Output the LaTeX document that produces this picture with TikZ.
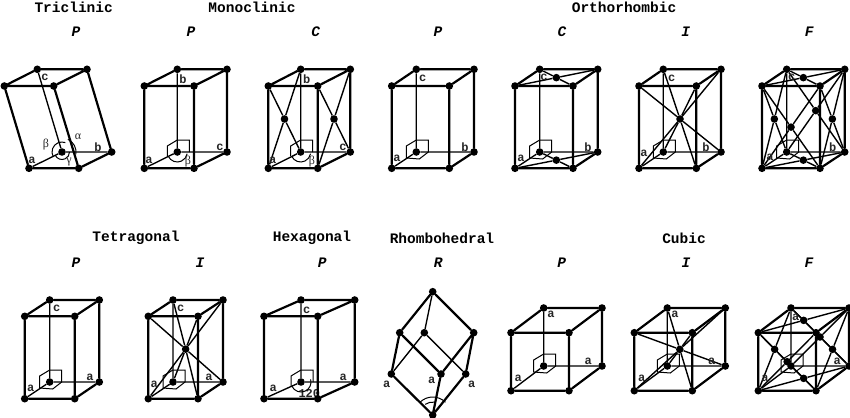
\documentclass[tikz,border=0pt]{standalone}
\usepackage{fontspec}
\setmonofont{Liberation Mono}
\newfontfamily\grk{Liberation Serif}
\usetikzlibrary{calc}
\tikzset{
  x=1pt,y=-1pt,
  vtx/.style={circle,fill=black,inner sep=0pt,minimum size=7.6pt},
  edgeA/.style={line width=2.2pt,line cap=round},
  edgeB/.style={line width=1.35pt},
  diag/.style={line width=1.4pt},
  marker/.style={line width=1pt,line join=miter},
  ttl/.style={font=\ttfamily\bfseries\fontsize{14.5}{15}\selectfont,inner sep=0pt},
  cen/.style={font=\ttfamily\bfseries\itshape\fontsize{14.5}{15}\selectfont,inner sep=0pt},
  lab/.style={font=\ttfamily\bfseries\fontsize{12}{12}\selectfont,inner sep=0pt,text=black!85},
  glab/.style={font=\grk\fontsize{12}{12}\selectfont,inner sep=0pt,text=black!85}
}
\newcommand\cellbox[9]{%
  \node[vtx] (#1ftl) at (#2,\yFT) {};
  \node[vtx] (#1ftr) at (#3,\yFT) {};
  \node[vtx] (#1btl) at (#4,\yBT) {};
  \node[vtx] (#1btr) at (#5,\yBT) {};
  \node[vtx] (#1fbl) at (#6,\yFB) {};
  \node[vtx] (#1fbr) at (#7,\yFB) {};
  \node[vtx] (#1bbl) at (#8,\yBB) {};
  \node[vtx] (#1bbr) at (#9,\yBB) {};
  \draw[edgeB] (#1btl)--(#1bbl) (#1bbl)--(#1bbr) (#1bbl)--(#1fbl);
  \draw[edgeA] (#1ftl)--(#1ftr) (#1ftr)--(#1btr) (#1btr)--(#1btl) (#1btl)--(#1ftl)
    (#1ftl)--(#1fbl) (#1fbl)--(#1fbr) (#1fbr)--(#1ftr) (#1fbr)--(#1bbr) (#1bbr)--(#1btr);
}
\newcommand\uprightbox[5]{\cellbox{#1}{#2}{#3}{#4}{#5}{#2}{#3}{#4}{#5}}
\newcommand\centred[5]{%
  \node[vtx] (#1) at ($(#2)!.5!(#3)$) {};
  \draw[diag] (#2)--(#1) (#1)--(#3) (#4)--(#1) (#1)--(#5);
}
\newcommand\allfaces[1]{%
  \centred{#1top}{#1ftl}{#1btr}{#1ftr}{#1btl}
  \centred{#1bot}{#1fbl}{#1bbr}{#1fbr}{#1bbl}
  \centred{#1lft}{#1ftl}{#1bbl}{#1btl}{#1fbl}
  \centred{#1rgt}{#1ftr}{#1bbr}{#1btr}{#1fbr}
  \centred{#1frt}{#1ftl}{#1fbr}{#1ftr}{#1fbl}
  \centred{#1bck}{#1btl}{#1bbr}{#1btr}{#1bbl}
}
\newcommand\hexmark[1]{%
  \draw[marker] ([shift={(3,7)}]#1.center)--([shift={(12,0)}]#1.center)--([shift={(12,-12)}]#1.center)
    --([shift={(0,-12)}]#1.center)--([shift={(-10,-6)}]#1.center)--([shift={(-10,6)}]#1.center)--cycle;
}
\newcommand\halfmark[1]{%
  \draw[marker] ([shift={(12,0)}]#1.center)--([shift={(12,-12)}]#1.center)
    --([shift={(0,-12)}]#1.center)--([shift={(-10,-6)}]#1.center)--([shift={(-10,4)}]#1.center);
}
\newcommand\angarc[4]{%
  \draw[marker] ([shift={(#2:#4pt)}]#1.center) arc[start angle=#2,end angle=#3,radius=#4pt];
}
\begin{document}
\begin{tikzpicture}
\useasboundingbox (0,0) rectangle (850,417);
\fill[white] (0,0) rectangle (850,417);
\node[ttl] (t1) at (73.7,7.5) {Triclinic};
\node[ttl] (t2) at (252,7.5) {Monoclinic};
\node[ttl] (t3) at (624,7.5) {Orthorhombic};
\node[ttl] (t4) at (136,238) {Tetragonal};
\node[ttl] (t5) at (312,238) {Hexagonal};
\node[ttl] (t6) at (442,238) {Rhombohedral};
\node[ttl] (t7) at (684,238) {Cubic};
\node[cen] (l1) at (76,32) {P};
\node[cen] (l2) at (191,32) {P};
\node[cen] (l3) at (315.7,32) {C};
\node[cen] (l4) at (438,32) {P};
\node[cen] (l5) at (562,32) {C};
\node[cen] (l6) at (685.7,32) {I};
\node[cen] (l7) at (809.3,32) {F};
\node[cen] (m1) at (76,262.7) {P};
\node[cen] (m2) at (200,262.7) {I};
\node[cen] (m3) at (322.3,262.7) {P};
\node[cen] (m4) at (438.3,262.7) {R};
\node[cen] (m5) at (561.7,262.7) {P};
\node[cen] (m6) at (686,262.7) {I};
\node[cen] (m7) at (809,262.7) {F};
% row 1
\def\yFT{86}\def\yBT{69.3}\def\yFB{168.3}\def\yBB{152}
\cellbox{tr}{4.3}{53.7}{37.3}{87}{29}{78.7}{62}{111.7}
\angarc{trbbl}{65}{-10}{14}
\angarc{trbbl}{70}{210}{10}
\angarc{trbbl}{205}{360}{7.5}
\node[lab] (tra) at (32,160) {a};
\node[lab] (trb) at (98,147) {b};
\node[lab] (trc) at (45,77) {c};
\node[glab] (trB) at (46,145) {β};
\node[glab] (trA) at (78,137) {α};
\node[glab] (trG) at (69,162) {γ};
\uprightbox{mp}{144.3}{194}{177.3}{227}
\halfmark{mpbbl}
\angarc{mpbbl}{205}{350}{10}
\node[lab] (mpa) at (149,160) {a};
\node[lab] (mpc) at (220,147) {c};
\node[lab] (mpb) at (183,79) {b};
\node[glab] (mpB) at (188,162) {β};
\uprightbox{mc}{268.3}{317.7}{300.7}{350.3}
\centred{mcl}{mcftl}{mcbbl}{mcbtl}{mcfbl}
\centred{mcr}{mcftr}{mcbbr}{mcbtr}{mcfbr}
\halfmark{mcbbl}
\angarc{mcbbl}{205}{350}{10}
\node[lab] (mca) at (272.7,160) {a};
\node[lab] (mcb) at (306.7,79) {b};
\node[lab] (mcc) at (343,147) {c};
\node[glab] (mcB) at (312,162) {β};
\uprightbox{op}{391.7}{449.3}{416.3}{474}
\hexmark{opbbl}
\node[lab] (opa) at (397,158) {a};
\node[lab] (opb) at (465,147) {b};
\node[lab] (opc) at (422.7,78) {c};
\uprightbox{oc}{515}{573}{539.7}{597.7}
\centred{octop}{ocftl}{ocbtr}{ocftr}{ocbtl}
\centred{ocbot}{ocfbl}{ocbbr}{ocfbr}{ocbbl}
\hexmark{ocbbl}
\node[lab] (oca) at (521,158) {a};
\node[lab] (ocb) at (588,147) {b};
\node[lab] (occ) at (544,77) {c};
\uprightbox{oi}{639}{696.3}{663.3}{721}
\centred{oicen}{oiftl}{oibbr}{oiftr}{oibbl}
\draw[diag] (oibtl)--(oicen) (oicen)--(oifbr) (oibtr)--(oicen) (oicen)--(oifbl);
\hexmark{oibbl}
\node[lab] (oia) at (644,153) {a};
\node[lab] (oib) at (706,147) {b};
\node[lab] (oic) at (671.7,78) {c};
\uprightbox{of}{762}{820}{786.7}{844.7}
\allfaces{of}
\hexmark{ofbbl}
\node[lab] (ofa) at (770,157) {a};
\node[lab] (ofb) at (832.7,147) {b};
\node[lab] (ofc) at (791.7,77) {c};
% row 2
\def\yFT{316.3}\def\yBT{300}\def\yFB{398.7}\def\yBB{382}
\uprightbox{tp}{24.7}{74.7}{49.7}{99.3}
\hexmark{tpbbl}
\node[lab] (tpa) at (30.7,388) {a};
\node[lab] (tpb) at (90,377) {a};
\node[lab] (tpc) at (56.7,308) {c};
\uprightbox{ti}{148.3}{198}{173}{223}
\centred{ticen}{tiftl}{tibbr}{tiftr}{tibbl}
\draw[diag] (tibtl)--(ticen) (ticen)--(tifbr) (tibtr)--(ticen) (ticen)--(tifbl);
\hexmark{tibbl}
\node[lab] (tia) at (154.3,384) {a};
\node[lab] (tib) at (209,377) {a};
\node[lab] (tic) at (180.7,308) {c};
\node[lab] (hx120) at (309.3,393.3) {120};
\uprightbox{hx}{264}{317.7}{301}{354.7}
\halfmark{hxbbl}
\angarc{hxbbl}{205}{375}{10}
\node[lab] (hxa) at (273.3,388) {a};
\node[lab] (hxb) at (343.3,377) {a};
\node[lab] (hxc) at (306.7,310) {c};
% rhombohedral
\node[vtx] (rt) at (432.7,291.7) {};
\node[vtx] (rul) at (399.7,332.7) {};
\node[vtx] (rum) at (424.3,332.7) {};
\node[vtx] (rur) at (473.7,332.7) {};
\node[vtx] (rll) at (391.3,374) {};
\node[vtx] (rlm) at (441,374) {};
\node[vtx] (rlr) at (465.7,374) {};
\node[vtx] (rb) at (432.7,415) {};
\draw[edgeB] (rt)--(rum) (rum)--(rll) (rum)--(rlr);
\draw[edgeA] (rt)--(rul) (rt)--(rur) (rul)--(rll) (rul)--(rlm) (rur)--(rlm) (rur)--(rlr)
  (rll)--(rb) (rlm)--(rb) (rlr)--(rb);
\angarc{rb}{135}{45}{18}
\angarc{rb}{125}{80}{13}
\node[lab] (ra) at (386.7,384) {a};
\node[lab] (rb2) at (431.7,380) {a};
\node[lab] (rc) at (471.7,384) {a};
% cubic
\def\yFT{332.7}\def\yBT{308}\def\yFB{390.7}\def\yBB{366}
\uprightbox{cp}{511}{569}{543.7}{602}
\hexmark{cpbbl}
\node[lab] (cpa) at (551,314.3) {a};
\node[lab] (cpb) at (588.3,361) {a};
\node[lab] (cpc) at (518.3,378.3) {a};
\uprightbox{ci}{634.3}{692.3}{667.3}{725.3}
\centred{cicen}{ciftl}{cibbr}{ciftr}{cibbl}
\draw[diag] (cibtl)--(cicen) (cicen)--(cifbr) (cibtr)--(cicen) (cicen)--(cifbl);
\hexmark{cibbl}
\node[lab] (cia) at (675,314) {a};
\node[lab] (cib) at (711.7,361) {a};
\node[lab] (cic) at (641.7,378.3) {a};
\uprightbox{cf}{758.3}{816}{791}{849}
\allfaces{cf}
\hexmark{cfbbl}
\node[lab] (cfa) at (795.7,317.7) {a};
\node[lab] (cfb) at (837.3,361) {a};
\node[lab] (cfc) at (765,378.3) {a};
\end{tikzpicture}
\end{document}
